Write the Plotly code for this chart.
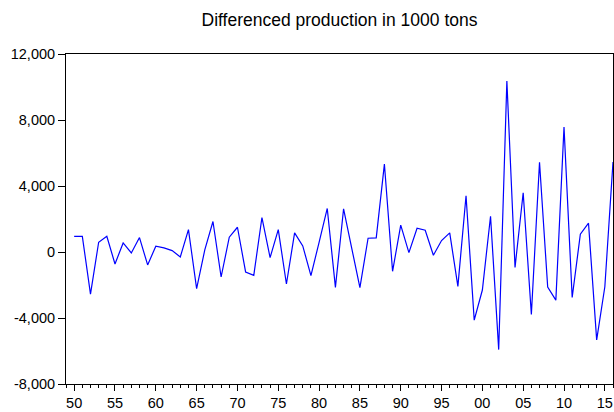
import plotly.graph_objects as go

years = list(range(1950, 2017))
values = [950, 950, -2550, 590, 955, -725, 550, -60, 875, -785,
          350, 250, 85, -300, 1360, -2225, 130, 1850, -1515, 895,
          1500, -1210, -1415, 2090, -340, 1360, -1940, 1160, 370, -1435,
          590, 2640, -2145, 2620, 225, -2165, 835, 855, 5330, -1170,
          1625, -35, 1440, 1320, -200, 695, 1160, -2085, 3410, -4130,
          -2305, 2170, -5915, 10360, -930, 3590, -3790, 5435, -2125, -2915,
          7580, -2755, 1075, 1745, -5325, -2105, 5455]

x_tick_vals = list(range(1950, 2016, 5))
x_tick_text = [str(y)[2:] for y in x_tick_vals]
y_tick_vals = [-8000, -4000, 0, 4000, 8000, 12000]
y_tick_text = ["-8,000", "-4,000", "0", "4,000", "8,000", "12,000"]

fig = go.Figure()
fig.add_trace(go.Scatter(x=years, y=values, mode="lines",
                         line=dict(color="#0000FF", width=1.2),
                         showlegend=False, hoverinfo="skip"))

font = "Liberation Sans, Arial, sans-serif"
fig.update_layout(
    width=614, height=412,
    margin=dict(l=66, r=1, t=54, b=28),
    paper_bgcolor="white", plot_bgcolor="white",
    title=dict(text="Differenced production in 1000 tons",
               x=(66 + 613) / 2 / 614, xanchor="center",
               y=1 - 20 / 412, yanchor="middle",
               font=dict(family=font, size=17.5, color="black")),
    font=dict(family=font, size=14.5, color="black"),
)
fig.update_xaxes(range=[1949, 2016], showgrid=False, zeroline=False,
                 showline=True, linecolor="black", linewidth=1, mirror=True,
                 tickmode="array", tickvals=x_tick_vals, ticktext=x_tick_text,
                 ticks="outside", ticklen=6, tickcolor="black", tickwidth=1,
                 tickfont=dict(family=font, size=14.5, color="black"),
                 minor=dict(tickmode="linear", tick0=1949, dtick=1,
                            ticks="outside", ticklen=3, tickcolor="black",
                            tickwidth=1, showgrid=False))
fig.update_yaxes(range=[-8000, 12000], showgrid=False, zeroline=False,
                 showline=True, linecolor="black", linewidth=1, mirror=True,
                 tickmode="array", tickvals=y_tick_vals, ticktext=y_tick_text,
                 ticks="outside", ticklen=7, tickcolor="black", tickwidth=1,
                 tickfont=dict(family=font, size=14.5, color="black"))

fig.write_html("out.html",
               config={"displayModeBar": False, "staticPlot": True},
               post_script="document.body.style.margin='0';"
                           "document.body.style.overflow='hidden';")
